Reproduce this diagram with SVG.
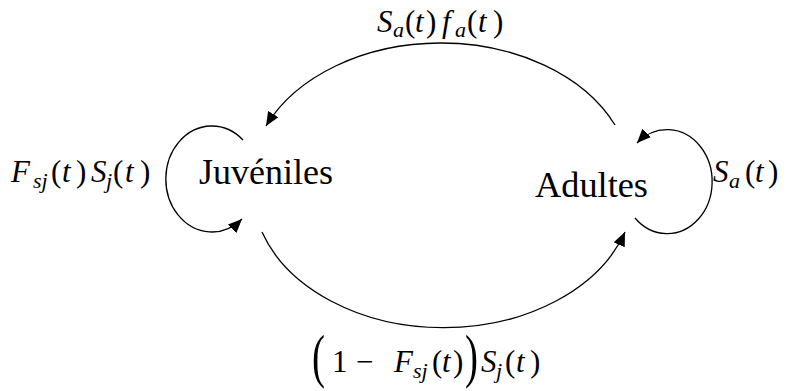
<svg xmlns="http://www.w3.org/2000/svg" width="791" height="391" viewBox="0 0 791 391">
<style>
text{font-family:'Liberation Serif','DejaVu Serif',serif;fill:#000}
.m{font-size:31px}
.i{font-style:italic}
.s{font-style:italic;font-size:22px}
.big{font-size:60px}
.edge{fill:none;stroke:#000;stroke-width:1.3}
</style>
<defs>
<marker id="ah" markerUnits="userSpaceOnUse" markerWidth="14" markerHeight="12" refX="14" refY="6" orient="auto">
<path d="M0,0 L14,6 L0,12 z" fill="#000"/>
</marker>
</defs>
<rect width="791" height="391" fill="#fff"/>
<g id="connectors">
<path class="edge" d="M615,125 A191,139 0 0,0 266,126" marker-end="url(#ah)"/>
<path class="edge" d="M262,232 A191,139 0 0,0 625,232" marker-end="url(#ah)"/>
<path class="edge" d="M243,140 A46,53 0 1,0 242,219" marker-end="url(#ah)"/>
<path class="edge" d="M635,218 A45,52 0 1,0 637,143" marker-end="url(#ah)"/>
</g>
<g id="juveniles">
<text x="199" y="184" font-size="35" textLength="134" lengthAdjust="spacingAndGlyphs">Juvéniles</text>
</g>
<g id="adultes">
<text x="535" y="197" font-size="36" textLength="113" lengthAdjust="spacingAndGlyphs">Adultes</text>
</g>
<g id="labels">
<text class="m"><tspan class="i" x="377" y="32">S</tspan><tspan class="s" x="393" y="37">a</tspan><tspan x="405" y="32">(</tspan><tspan class="i" x="415" y="32">t</tspan><tspan x="426" y="32">)</tspan><tspan class="i" x="442" y="32">f</tspan><tspan class="s" x="455" y="37">a</tspan><tspan x="467" y="32">(</tspan><tspan class="i" x="478" y="32">t</tspan><tspan x="493" y="32">)</tspan></text>
<text class="m"><tspan class="i" x="11" y="182">F</tspan><tspan class="s" x="33" y="188">sj</tspan><tspan x="51" y="182">(</tspan><tspan class="i" x="62" y="182">t</tspan><tspan x="76" y="182">)</tspan><tspan class="i" x="91" y="182">S</tspan><tspan class="s" x="106" y="188">j</tspan><tspan x="113" y="182">(</tspan><tspan class="i" x="125" y="182">t</tspan><tspan x="140" y="182">)</tspan></text>
<text class="m"><tspan class="i" x="713" y="182">S</tspan><tspan class="s" x="729" y="188">a</tspan><tspan x="745" y="182">(</tspan><tspan class="i" x="755" y="182">t</tspan><tspan x="768" y="182">)</tspan></text>
<text class="m"><tspan x="332" y="372">1</tspan><tspan x="356" y="372">−</tspan><tspan class="i" x="394" y="372">F</tspan><tspan class="s" x="413" y="378">sj</tspan><tspan x="432" y="372">(</tspan><tspan class="i" x="442" y="372">t</tspan><tspan x="453" y="372">)</tspan><tspan class="i" x="481" y="372">S</tspan><tspan class="s" x="496" y="378">j</tspan><tspan x="505" y="372">(</tspan><tspan class="i" x="516" y="372">t</tspan><tspan x="530" y="372">)</tspan></text>
<text class="big" transform="translate(312,376) scale(0.65,1)">(</text>
<text class="big" transform="translate(465,376) scale(0.65,1)">)</text>
</g>
</svg>
